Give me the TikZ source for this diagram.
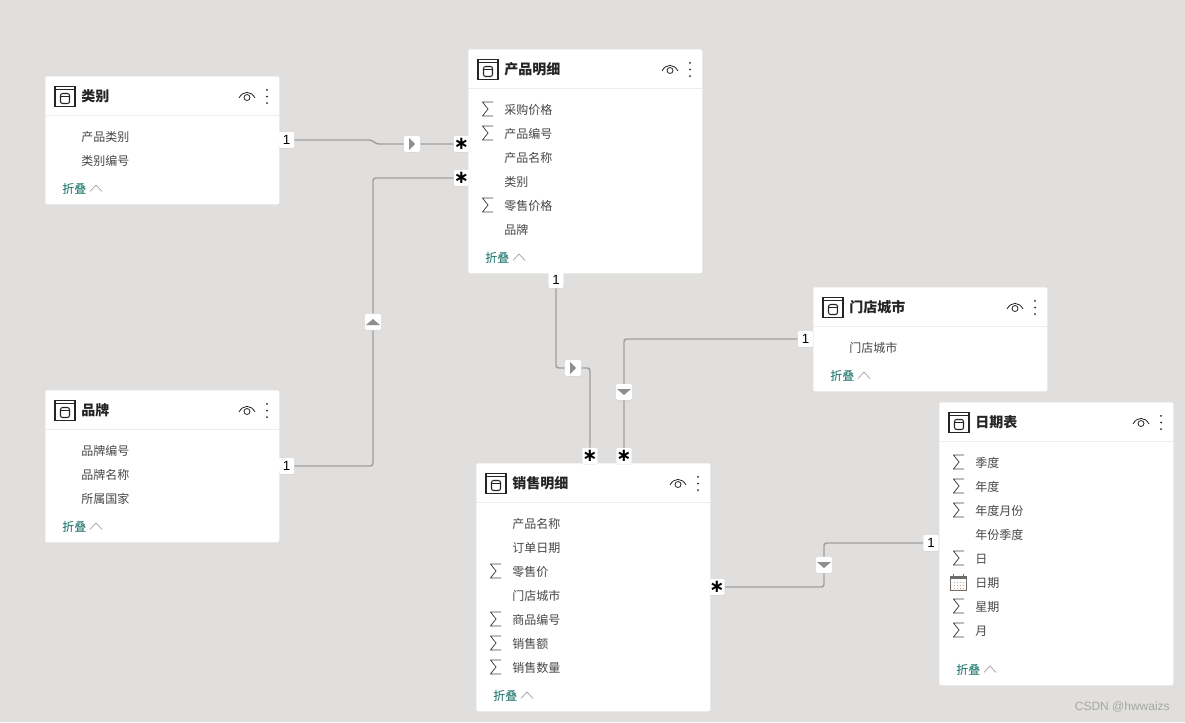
\documentclass[tikz,border=0pt]{standalone}
\usepackage{fontspec}
\setmainfont{Noto Sans CJK SC}
\newfontfamily\latinfont{Liberation Sans}
\newfontfamily\starfont{DejaVu Sans}
\usetikzlibrary{positioning, backgrounds, shadows}
\definecolor{canvas}{HTML}{E0DFDD}
\definecolor{inkdark}{HTML}{252423}
\definecolor{fieldtext}{HTML}{484644}
\definecolor{foldteal}{HTML}{0B6A61}
\definecolor{linkline}{HTML}{A19F9D}
\definecolor{tricolor}{HTML}{8F8E8C}
\tikzset{
  x=0.75pt, y=-0.75pt,
  card/.style={fill=white, rounded corners=1.5pt, anchor=north west, inner sep=0pt,
               minimum width=175.5pt},
  cardtitle/.style={anchor=west, inner sep=0pt, font=\fontsize{10.5}{12}\selectfont\bfseries, text=inkdark},
  fieldrow/.style={anchor=west, inner sep=0pt, font=\fontsize{9}{11}\selectfont, text=fieldtext},
  foldtext/.style={anchor=west, inner sep=0pt, font=\fontsize{9}{11}\selectfont, text=foldteal},
  badge/.style={fill=white, inner sep=0pt, minimum width=11.5pt, minimum height=12pt, rounded corners=1pt,
                drop shadow={shadow xshift=0pt, shadow yshift=-0.5pt, opacity=0.18}},
  onebadge/.style={badge, font=\latinfont\fontsize{10}{12}\selectfont, text=black},
  manybadge/.style={badge, font=\starfont\bfseries\fontsize{13.5}{13.5}\selectfont, text=black},
  midbadge/.style={badge, minimum width=12pt},
  link/.style={draw=linkline, line width=1.1pt, rounded corners=2pt},
  triright/.pic={\fill[tricolor] (-3,-6.2) -- (3,0) -- (-3,6.2) -- cycle;},
  triup/.pic={\fill[tricolor] (-7,3) -- (7,3) -- (0,-3) -- cycle;},
  tridown/.pic={\fill[tricolor] (-7,-3) -- (7,-3) -- (0,3) -- cycle;},
  noicon/.pic={},
  sumicon/.pic={
    \draw[fieldtext, line width=0.6pt] (5.5,-7) -- (-5,-7) -- (0.5,0) -- (-5,7) -- (5.5,7);
  },
  calicon/.pic={
    \draw[fieldtext!80, line width=0.6pt] (-8,-6) rectangle (8,8);
    \fill[fieldtext!80] (-8,-6) rectangle (8,-3);
    \draw[fieldtext!80, line width=0.6pt] (-5,-8) -- (-5,-6) (5,-8) -- (5,-6);
    \foreach \dotx in {-5,-2,1,4}
      \foreach \doty in {-0.5,2.5,5.5}
        \fill[orange!50!gray!70] (\dotx,\doty) rectangle ++(1.6,1.6);
  },
  tableicon/.pic={
    \draw[inkdark, line width=1pt] (-10,-10) rectangle (10,10);
    \draw[inkdark, line width=1pt] (-10,-7) -- (10,-7);
    \draw[inkdark, line width=0.8pt, rounded corners=1.6pt] (-4.5,-3) rectangle (4.5,7);
    \draw[inkdark, line width=0.6pt] (-4.5,-0.5) -- (4.5,-0.5);
  },
  eyeicon/.pic={
    \draw[inkdark, line width=0.6pt] (-8,1.5) .. controls (-4,-6) and (4,-6) .. (8,1.5);
    \draw[inkdark, line width=0.6pt] (0,1) circle (3);
  },
  dotsicon/.pic={
    \foreach \doty in {-6.7,0,6.7}
      \fill[inkdark] (0,\doty) circle (1);
  },
}
% one table card: name, x, y, height, title, rows
\newcommand{\tablecard}[6]{
  \begin{scope}[shift={(#2,#3)}]
    \node[card, minimum height=#4*0.75pt] (#1) at (0,0) {};
    \draw[canvas!60, line width=0.6pt] (0,39) -- (234,39);
    \pic at (20,20.5) {tableicon};
    \node[cardtitle] (#1title) at (36,20) {#5};
    \pic at (202,20.5) {eyeicon};
    \pic at (222,20.5) {dotsicon};
    \foreach \rowtext/\rowmark [count=\rowi from 0] in {#6} {
      \pic at (19.5,60+24*\rowi) {\rowmark};
      \node[fieldrow] (#1row\rowi) at (36,61+24*\rowi) {\rowtext};
    }
    \node[foldtext] (#1fold) at (17,#4-15) {折叠};
    \draw[linkline, line width=0.5pt] (45,#4-12.5) -- (51,#4-19) -- (57,#4-12.5);
  \end{scope}
}

\begin{document}
\begin{tikzpicture}
\useasboundingbox (0,0) rectangle (1185,722);

%% ====================  TABLES  ====================

\tablecard{category}{45}{76}{128}{类别}{产品类别/noicon, 类别编号/noicon}
\tablecard{brand}{45}{390}{152}{品牌}{品牌编号/noicon, 品牌名称/noicon, 所属国家/noicon}
\tablecard{product}{468}{49}{224}{产品明细}{采购价格/sumicon, 产品编号/sumicon, 产品名称/noicon, 类别/noicon, 零售价格/sumicon, 品牌/noicon}
\tablecard{city}{813}{287}{104}{门店城市}{门店城市/noicon}
\tablecard{date}{939}{402}{283}{日期表}{季度/sumicon, 年度/sumicon, 年度月份/sumicon, 年份季度/noicon, 日/sumicon, 日期/calicon, 星期/sumicon, 月/sumicon}
\tablecard{sales}{476}{463}{248}{销售明细}{产品名称/noicon, 订单日期/noicon, 零售价/sumicon, 门店城市/noicon, 商品编号/sumicon, 销售额/sumicon, 销售数量/sumicon}

%% ====================  BADGES  ====================

\node[onebadge] (catone) at (286.5,140) {1};
\node[midbadge] (catmid) at (412,144) {};
\node[manybadge] (catmany) at (461.5,144) {∗};
\pic at (catmid) {triright};

\node[onebadge] (brandone) at (286.5,466) {1};
\node[midbadge] (brandmid) at (373,322) {};
\node[manybadge] (brandmany) at (461.5,178) {∗};
\pic at (brandmid) {triup};

\node[onebadge] (prodone) at (556,280) {1};
\node[midbadge] (prodmid) at (573,368) {};
\node[manybadge] (prodmany) at (590,456) {∗};
\pic at (prodmid) {triright};

\node[onebadge] (cityone) at (805.5,339) {1};
\node[midbadge] (citymid) at (624,392) {};
\node[manybadge] (citymany) at (624,456) {∗};
\pic at (citymid) {tridown};

\node[onebadge] (dateone) at (931,543) {1};
\node[midbadge] (datemid) at (824,565) {};
\node[manybadge] (datemany) at (717,587) {∗};
\pic at (datemid) {tridown};

%% ====================  ARROWS  ====================

\begin{pgfonlayer}{background}
\fill[canvas] (0,0) rectangle (1185,722);
\draw[link] (catone) -- ++(85,0) -- ++(5,4) -- (catmid) -- (catmany);
\draw[link] (brandmany) -| (brandmid) |- (brandone);
\draw[link] (prodone) |- (prodmid) -| (prodmany);
\draw[link] (cityone) -| (citymid) -- (citymany);
\draw[link] (datemany) -| (datemid) |- (dateone);
\end{pgfonlayer}

\node[anchor=east, inner sep=0pt, text=gray!70, font=\latinfont\fontsize{9}{10}\selectfont]
  (mark) at (1170,707) {CSDN @hwwaizs};

\end{tikzpicture}
\end{document}
